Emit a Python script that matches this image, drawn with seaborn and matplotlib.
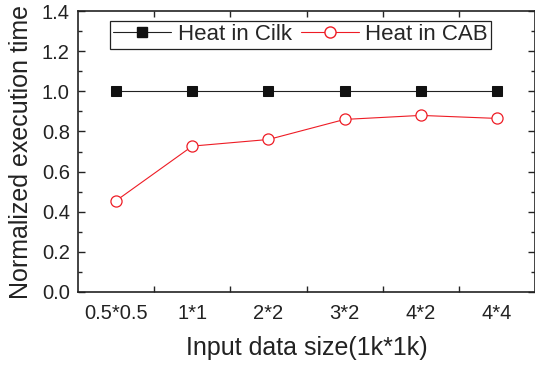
import pandas as pd
import numpy as np
import matplotlib.pyplot as plt
import seaborn as sns
from matplotlib.ticker import MultipleLocator, FixedLocator
from matplotlib.lines import Line2D

sizes = ['0.5*0.5', '1*1', '2*2', '3*2', '4*2', '4*4']
cilk = [1.0, 1.0, 1.0, 1.0, 1.0, 1.0]
cab = [0.455, 0.727, 0.76, 0.86, 0.88, 0.865]
series_names = ['Heat in Cilk', 'Heat in CAB']

df = pd.DataFrame({
    'size': sizes * 2,
    'time': cilk + cab,
    'series': [series_names[0]] * len(sizes) + [series_names[1]] * len(sizes),
})

sns.set_style('ticks')
plt.rcParams['font.family'] = ['Liberation Sans', 'DejaVu Sans']

fig = plt.figure(figsize=(5.35, 3.7), dpi=100)
ax = fig.add_axes([0.146, 0.211, 0.854, 0.759])

palette = {'Heat in Cilk': '#222222', 'Heat in CAB': '#ee1c25'}
sns.lineplot(data=df, x='size', y='time', hue='series', style='series',
             markers={'Heat in Cilk': 's', 'Heat in CAB': 'o'}, dashes=False,
             palette=palette, sort=False, linewidth=0.8, ax=ax, legend=False)

# filled squares, open circles
lines = ax.get_lines()
lines[0].set_markerfacecolor('#111111')
lines[0].set_markeredgecolor('#111111')
lines[0].set_markersize(7)
lines[1].set_markerfacecolor('white')
lines[1].set_markeredgecolor('#ee1c25')
lines[1].set_markersize(8)
lines[1].set_markeredgewidth(0.9)

ax.set_xlim(-0.5, 5.5)
ax.set_ylim(0, 1.4)
ax.set_xticks(range(len(sizes)))
ax.set_xticklabels(sizes)
ax.xaxis.set_minor_locator(FixedLocator(np.arange(0.5, 5.0, 1.0)))
ax.yaxis.set_major_locator(MultipleLocator(0.2))
ax.yaxis.set_minor_locator(MultipleLocator(0.1))
ax.yaxis.set_major_formatter(plt.FormatStrFormatter('%.1f'))

ax.tick_params(axis='x', which='major', length=0, labelsize=14.5, pad=9, colors='#222222')
ax.tick_params(axis='x', which='minor', direction='in', length=4, width=1, top=True, bottom=True)
ax.tick_params(axis='y', which='major', direction='in', length=5, width=1, left=True, right=True,
               labelsize=14.5, pad=6, colors='#222222')
ax.tick_params(axis='y', which='minor', direction='in', length=3, width=1, left=True, right=True)
for s in ax.spines.values():
    s.set_visible(True)
    s.set_linewidth(1.2)
    s.set_color('#222222')

ax.set_xlabel('Input data size(1k*1k)', fontsize=18, color='#222222', labelpad=9)
ax.set_ylabel('Normalized execution time', fontsize=18, color='#222222', labelpad=6)

handles = [
    Line2D([], [], color='#222222', lw=0.8, marker='s', markersize=7,
           markerfacecolor='#111111', markeredgecolor='#111111'),
    Line2D([], [], color='#ee1c25', lw=0.8, marker='o', markersize=8,
           markerfacecolor='white', markeredgecolor='#ee1c25'),
]
leg = ax.legend(handles, series_names, ncol=2, loc='upper left', bbox_to_anchor=(0.07, 0.965),
                fontsize=16, frameon=True, fancybox=False, framealpha=1,
                edgecolor='#222222', handlelength=2.6, handletextpad=0.3,
                columnspacing=0.4, borderpad=0.15, borderaxespad=0)
leg.get_frame().set_linewidth(0.9)

fig.savefig('out.png', dpi=100)
